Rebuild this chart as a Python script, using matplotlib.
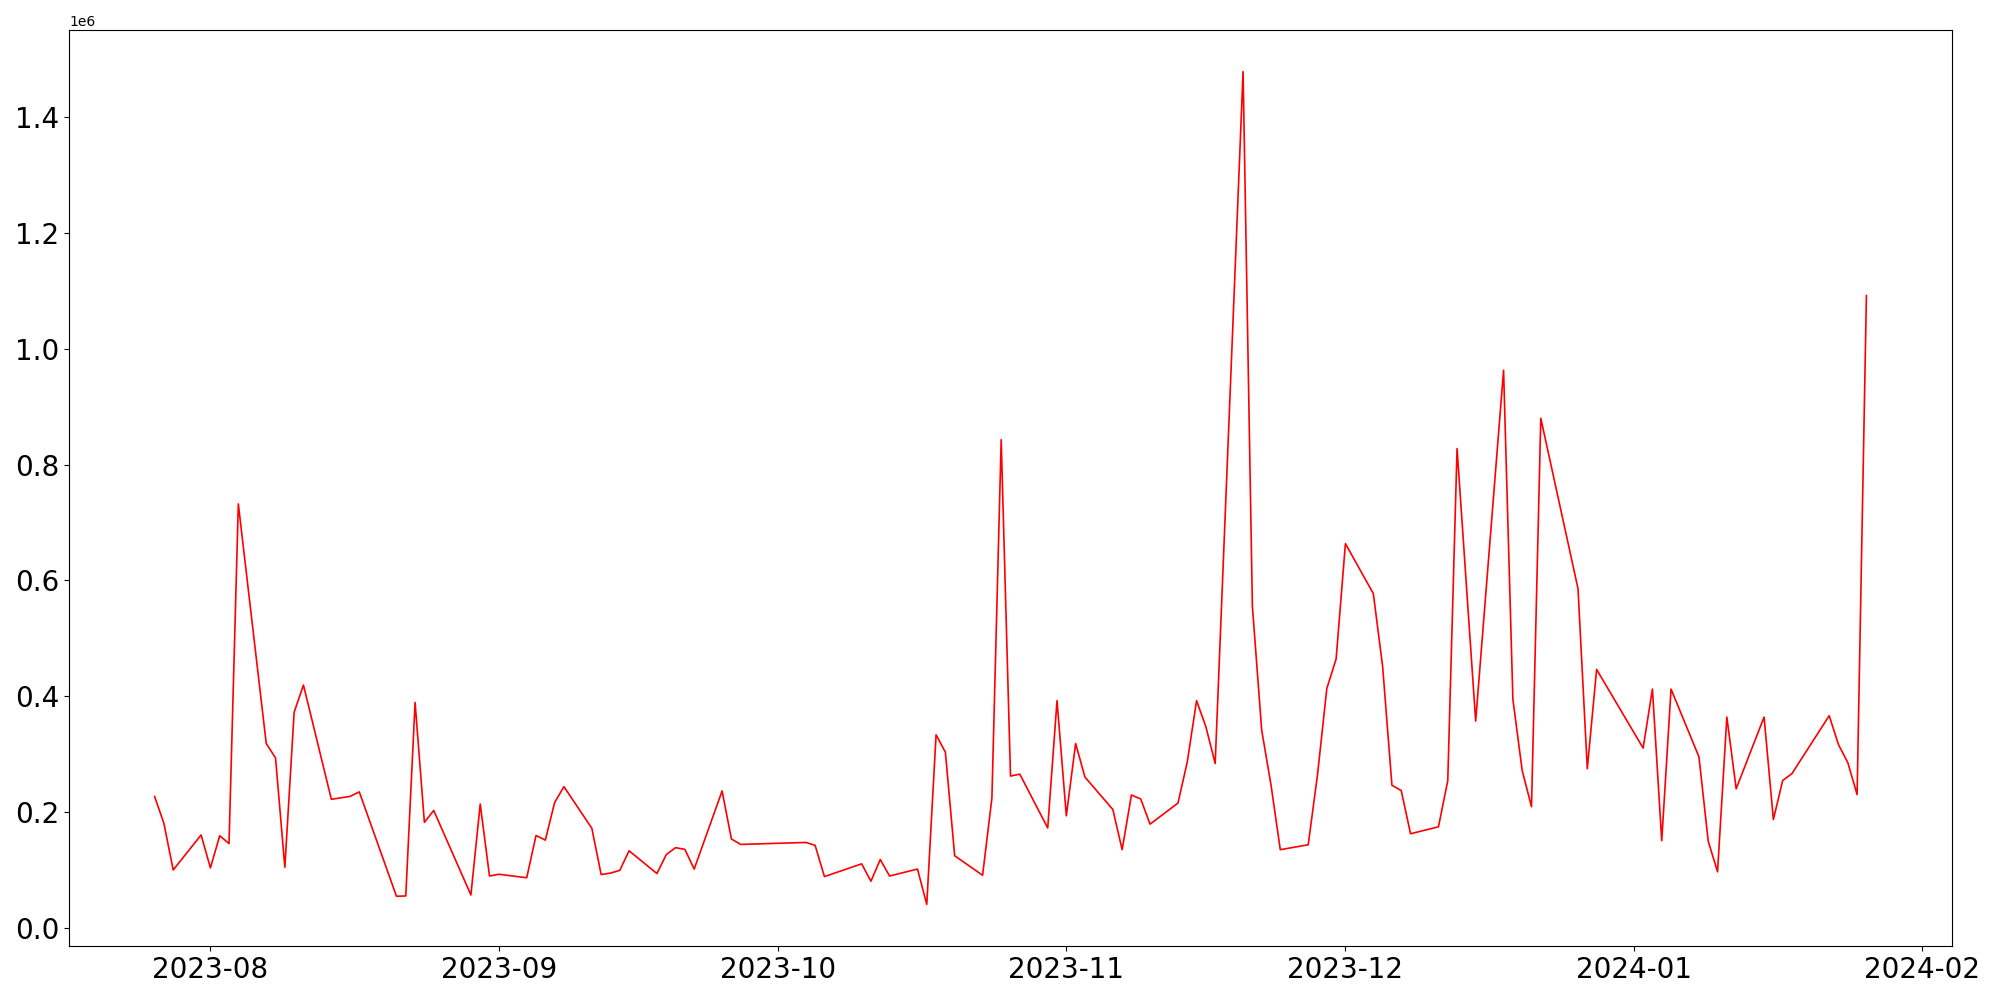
import pandas as pd
import matplotlib
matplotlib.use("Agg")
import matplotlib.pyplot as plt

# fechas (dias habiles) y valores
fechas = [
    "2023-07-26", "2023-07-27", "2023-07-28", "2023-07-31",
    "2023-08-01", "2023-08-02", "2023-08-03", "2023-08-04",
    "2023-08-07", "2023-08-08", "2023-08-09", "2023-08-10", "2023-08-11",
    "2023-08-14", "2023-08-16", "2023-08-17",
    "2023-08-21", "2023-08-22", "2023-08-23", "2023-08-24", "2023-08-25",
    "2023-08-29", "2023-08-30", "2023-08-31", "2023-09-01",
    "2023-09-04", "2023-09-05", "2023-09-06", "2023-09-07", "2023-09-08",
    "2023-09-11", "2023-09-12", "2023-09-13", "2023-09-14", "2023-09-15",
    "2023-09-18", "2023-09-19", "2023-09-20", "2023-09-21", "2023-09-22",
    "2023-09-25", "2023-09-26", "2023-09-27",
    "2023-10-04", "2023-10-05", "2023-10-06",
    "2023-10-10", "2023-10-11", "2023-10-12", "2023-10-13",
    "2023-10-16", "2023-10-17", "2023-10-18", "2023-10-19", "2023-10-20",
    "2023-10-23", "2023-10-24", "2023-10-25", "2023-10-26", "2023-10-27",
    "2023-10-30", "2023-10-31", "2023-11-01", "2023-11-02", "2023-11-03",
    "2023-11-06", "2023-11-07", "2023-11-08", "2023-11-09", "2023-11-10",
    "2023-11-13", "2023-11-14", "2023-11-15", "2023-11-16", "2023-11-17",
    "2023-11-20", "2023-11-21", "2023-11-22", "2023-11-23", "2023-11-24",
    "2023-11-27", "2023-11-28", "2023-11-29", "2023-11-30", "2023-12-01",
    "2023-12-04", "2023-12-05", "2023-12-06", "2023-12-07", "2023-12-08",
    "2023-12-11", "2023-12-12", "2023-12-13", "2023-12-15",
    "2023-12-18", "2023-12-19", "2023-12-20", "2023-12-21", "2023-12-22",
    "2023-12-26", "2023-12-27", "2023-12-28",
    "2024-01-02", "2024-01-03", "2024-01-04", "2024-01-05",
    "2024-01-08", "2024-01-09", "2024-01-10", "2024-01-11", "2024-01-12",
    "2024-01-15", "2024-01-16", "2024-01-17", "2024-01-18",
    "2024-01-22", "2024-01-23", "2024-01-24", "2024-01-25", "2024-01-26",
]

valores = [
    226500, 180000, 99400, 160000,
    103000, 158600, 145000, 732000,
    318000, 293000, 104000, 372000, 419000,
    221600, 226500, 234400,
    54000, 54500, 389000, 181600, 202300,
    56300, 213300, 89000, 92000,
    86000, 159000, 151000, 216000, 243400,
    171400, 91500, 94000, 98700, 132600,
    93200, 126000, 138000, 135000, 101000,
    236000, 153000, 143600,
    147000, 142000, 88000,
    110000, 80000, 117500, 89000,
    101000, 40000, 333000, 303000, 124000,
    90300, 223400, 843000, 261700, 265000,
    172000, 392000, 193000, 318000, 260000,
    204000, 134500, 229000, 222000, 178600,
    215000, 286000, 392000, 347000, 283400,
    1479000, 555000, 341000, 246500, 134500,
    143000, 264000, 413000, 464000, 663400,
    577000, 451000, 245800, 236600, 162000,
    174000, 253500, 827600, 356700,
    963000, 394500, 271300, 208800, 880000,
    585600, 274400, 446000,
    310000, 412000, 150000, 412000,
    295000, 149000, 96300, 363700, 239700,
    363700, 186600, 254000, 266000,
    366000, 316000, 285000, 229700, 1092000,
]

df = pd.DataFrame({"fecha": pd.to_datetime(fechas), "valor": valores})

fig, ax = plt.subplots(figsize=(20, 10), dpi=100)
ax.plot(df["fecha"], df["valor"], color="red", linewidth=1.2)
ax.tick_params(axis="both", labelsize=20)
plt.subplots_adjust(left=0.0345, right=0.976, top=0.97, bottom=0.054)
plt.savefig("out.png")
